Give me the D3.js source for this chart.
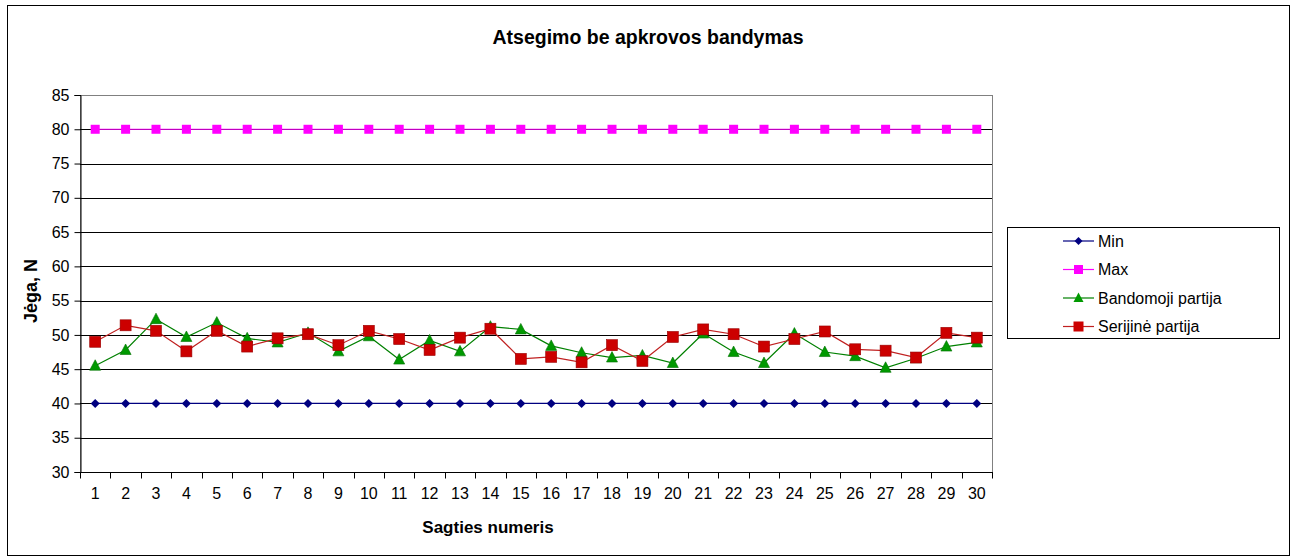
<!DOCTYPE html>
<html>
<head>
<meta charset="utf-8">
<script src="https://cdn.jsdelivr.net/npm/d3@7"></script>
<style>
  html, body { margin: 0; padding: 0; background: #fff; }
  svg { display: block; }
  text { font-family: "Liberation Sans", Arial, sans-serif; fill: #000; }
</style>
</head>
<body>
<svg id="chart" width="1296" height="560"></svg>
<script>
const categories = ["1","2","3","4","5","6","7","8","9","10","11","12","13","14","15","16","17","18","19","20","21","22","23","24","25","26","27","28","29","30"];
const minValues = [40,40,40,40,40,40,40,40,40,40,40,40,40,40,40,40,40,40,40,40,40,40,40,40,40,40,40,40,40,40];
const maxValues = [80,80,80,80,80,80,80,80,80,80,80,80,80,80,80,80,80,80,80,80,80,80,80,80,80,80,80,80,80,80];
const bandomojiValues = [45.5,47.8,52.3,49.7,51.8,49.5,48.9,50.3,47.6,49.8,46.4,49.2,47.6,51.2,50.8,48.4,47.4,46.7,47.0,45.9,50.2,47.5,45.9,50.2,47.5,46.9,45.2,46.6,48.3,48.9];
const serijineValues = [49.0,51.4,50.6,47.6,50.6,48.3,49.5,50.1,48.5,50.6,49.4,47.8,49.6,50.9,46.5,46.8,46.0,48.5,46.2,49.7,50.8,50.1,48.3,49.4,50.5,47.9,47.7,46.7,50.3,49.6];
const yTicks = [30,35,40,45,50,55,60,65,70,75,80,85];
const seriesNames = ["Min","Max","Bandomoji partija","Serijinė partija"];
const titleText = "Atsegimo be apkrovos bandymas";
const xTitle = "Sagties numeris";
const yTitle = "Jėga, N";

const svg = d3.select("#chart");
const plot = {left: 80, right: 992, top: 95, bottom: 472};

// outer border
svg.append("rect").attr("x", 7.5).attr("y", 5.5).attr("width", 1282).attr("height", 550)
  .attr("fill", "#fff").attr("stroke", "#000").attr("stroke-width", 1);

const x = d3.scaleBand().domain(categories).range([plot.left, plot.right]).padding(0);
const y = d3.scaleLinear().domain([30, 85]).range([plot.bottom, plot.top]);

// plot area border (gray top/right)
svg.append("rect").attr("x", plot.left + 0.5).attr("y", plot.top + 0.5)
  .attr("width", plot.right - plot.left).attr("height", plot.bottom - plot.top)
  .attr("fill", "none").attr("stroke", "#808080").attr("stroke-width", 1);

// gridlines
svg.append("g").selectAll("line").data(yTicks.filter(t => t > 30 && t < 85)).join("line")
  .attr("x1", plot.left).attr("x2", plot.right)
  .attr("y1", d => Math.round(y(d)) + 0.5).attr("y2", d => Math.round(y(d)) + 0.5)
  .attr("stroke", "#000").attr("stroke-width", 1);

// y axis
const yAxis = svg.append("g").attr("transform", `translate(${plot.left + 0.5},0)`)
  .call(d3.axisLeft(y).tickValues(yTicks).tickSize(6).tickPadding(5).tickFormat(d3.format("d")));
yAxis.select(".domain").attr("stroke", "#000");
yAxis.selectAll(".tick line").attr("stroke", "#000");
yAxis.selectAll(".tick text").style("font-size", "16px").attr("fill", "#000");

// x axis with ticks at band boundaries
const xAxisG = svg.append("g").attr("transform", `translate(0,${plot.bottom + 0.5})`);
xAxisG.append("line").attr("x1", plot.left).attr("x2", plot.right + 1).attr("y1", 0).attr("y2", 0).attr("stroke", "#000");
const boundaries = categories.map(c => x(c)).concat([plot.right]);
xAxisG.selectAll("line.tk").data(boundaries).join("line").attr("class", "tk")
  .attr("x1", d => Math.round(d) + 0.5).attr("x2", d => Math.round(d) + 0.5)
  .attr("y1", 0).attr("y2", 6).attr("stroke", "#000");
xAxisG.selectAll("text").data(categories).join("text")
  .attr("x", d => x(d) + x.bandwidth() / 2).attr("y", 26)
  .attr("text-anchor", "middle").style("font-size", "16px").text(d => d);

const cx = d => x(d) + x.bandwidth() / 2;
const lineGen = vals => d3.line().x((d, i) => cx(categories[i])).y(d => y(d))(vals);

// Min series
svg.append("path").attr("d", lineGen(minValues)).attr("fill", "none").attr("stroke", "#000080").attr("stroke-width", 1.2);
svg.append("g").selectAll("path").data(minValues).join("path")
  .attr("transform", (d, i) => `translate(${cx(categories[i])},${y(d)})`)
  .attr("d", "M0,-4.5L4.5,0L0,4.5L-4.5,0Z").attr("fill", "#000080");

// Max series
svg.append("path").attr("d", lineGen(maxValues)).attr("fill", "none").attr("stroke", "#FF00FF").attr("stroke-width", 1.2);
svg.append("g").selectAll("rect").data(maxValues).join("rect")
  .attr("x", (d, i) => cx(categories[i]) - 4.5).attr("y", d => y(d) - 4.5)
  .attr("width", 9).attr("height", 9).attr("fill", "#FF00FF");

// Bandomoji partija
svg.append("path").attr("d", lineGen(bandomojiValues)).attr("fill", "none").attr("stroke", "#008000").attr("stroke-width", 1.2);
svg.append("g").selectAll("path").data(bandomojiValues).join("path")
  .attr("transform", (d, i) => `translate(${cx(categories[i])},${y(d)})`)
  .attr("d", "M0,-6L5.5,4.5L-5.5,4.5Z").attr("fill", "#009900").attr("stroke", "#007000").attr("stroke-width", 0.6);

// Serijinė partija
svg.append("path").attr("d", lineGen(serijineValues)).attr("fill", "none").attr("stroke", "#C02020").attr("stroke-width", 1.2);
svg.append("g").selectAll("rect").data(serijineValues).join("rect")
  .attr("x", (d, i) => cx(categories[i]) - 5.5).attr("y", d => y(d) - 5.5)
  .attr("width", 11).attr("height", 11).attr("fill", "#CC0000").attr("stroke", "#990000").attr("stroke-width", 0.6);

// Title
svg.append("text").attr("x", 648).attr("y", 44).attr("text-anchor", "middle")
  .style("font-size", "19.5px").style("font-weight", "bold").text(titleText);

// Axis titles
svg.append("text").attr("x", 488).attr("y", 533).attr("text-anchor", "middle")
  .style("font-size", "17px").style("font-weight", "bold").text(xTitle);
svg.append("text").attr("transform", "translate(37,291) rotate(-90)").attr("text-anchor", "middle")
  .style("font-size", "18px").style("font-weight", "bold").text(yTitle);

// Legend
const lg = svg.append("g");
lg.append("rect").attr("x", 1007.5).attr("y", 227.5).attr("width", 272).attr("height", 111)
  .attr("fill", "#fff").attr("stroke", "#000").attr("stroke-width", 1);
const legendColors = ["#000080", "#FF00FF", "#008000", "#C02020"];
const rowY = [241, 269.5, 298, 326.5];
seriesNames.forEach((name, i) => {
  const yy = rowY[i];
  lg.append("line").attr("x1", 1063).attr("x2", 1094).attr("y1", yy).attr("y2", yy)
    .attr("stroke", legendColors[i]).attr("stroke-width", 1.2);
  const mx = 1078.5;
  if (i === 0) lg.append("path").attr("transform", `translate(${mx},${yy})`).attr("d", "M0,-4L4,0L0,4L-4,0Z").attr("fill", "#000080");
  if (i === 1) lg.append("rect").attr("x", mx - 4.5).attr("y", yy - 4.5).attr("width", 9).attr("height", 9).attr("fill", "#FF00FF");
  if (i === 2) lg.append("path").attr("transform", `translate(${mx},${yy})`).attr("d", "M0,-5.5L5,4L-5,4Z").attr("fill", "#009900");
  if (i === 3) lg.append("rect").attr("x", mx - 5).attr("y", yy - 5).attr("width", 10).attr("height", 10).attr("fill", "#CC0000");
  lg.append("text").attr("x", 1098).attr("y", yy + 5.5).style("font-size", "16px").text(name);
});
</script>
</body>
</html>
